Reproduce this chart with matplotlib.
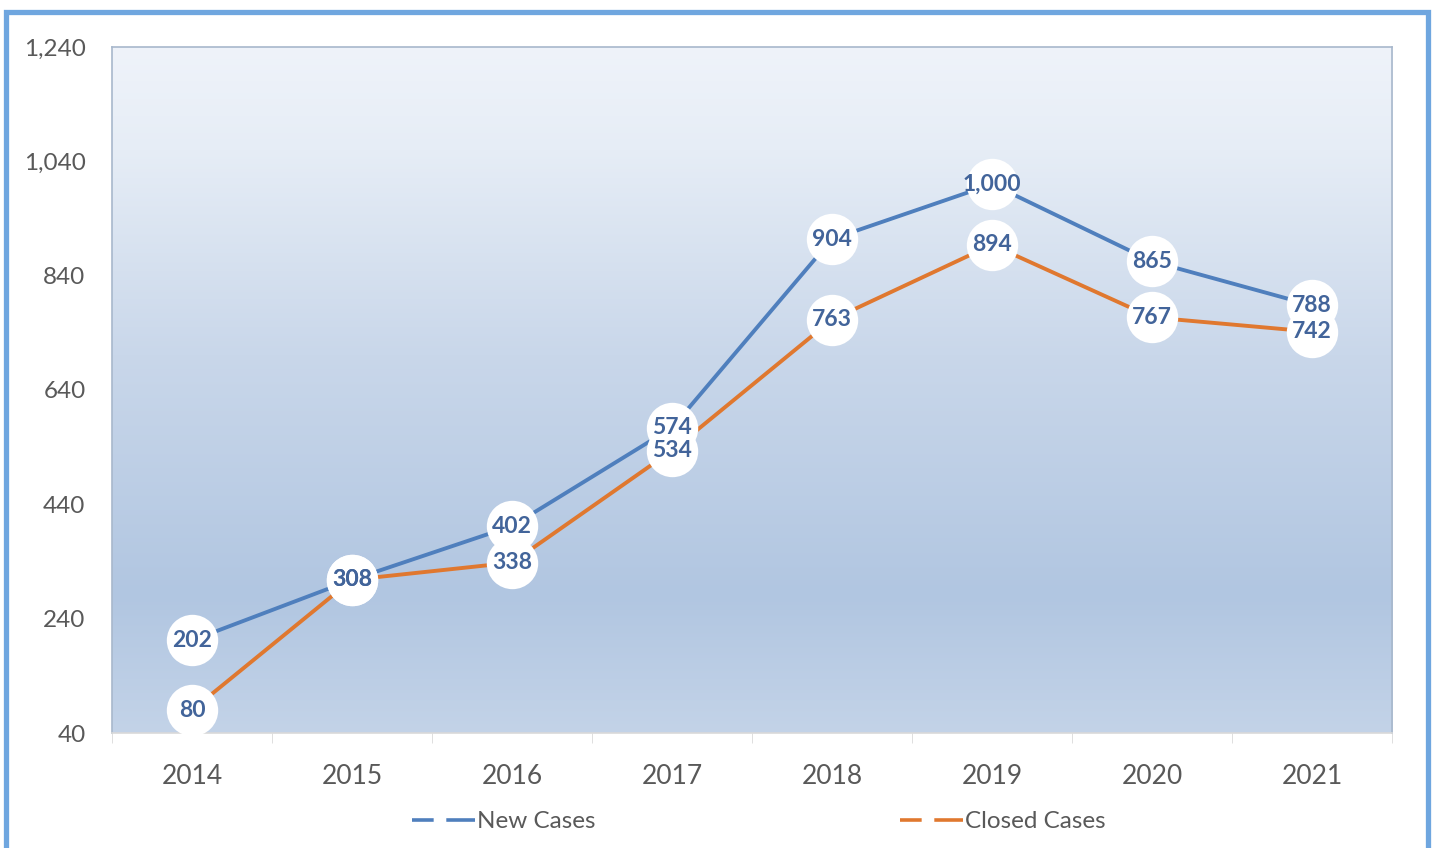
import numpy as np
import matplotlib.pyplot as plt
from matplotlib.colors import LinearSegmentedColormap
from matplotlib.lines import Line2D
from matplotlib.patches import Rectangle

plt.rcParams['font.family'] = ['Lato', 'DejaVu Sans']

years = ['2014', '2015', '2016', '2017', '2018', '2019', '2020', '2021']
new_cases = [202, 308, 402, 574, 904, 1000, 865, 788]
closed_cases = [80, 308, 338, 534, 763, 894, 767, 742]
y_ticks = [40, 240, 440, 640, 840, 1040, 1240]

blue = '#4f7fbd'
orange = '#e0782f'
label_col = '#42649a'
tick_col = '#595959'

fig = plt.figure(figsize=(14.37, 8.48), dpi=100)
ax = fig.add_axes([0.0779, 0.1356, 0.8908, 0.809])

# gradient background of the plot area (bottom -> top)
grad = LinearSegmentedColormap.from_list('bg', [(0.0, '#c3d3e8'), (0.2, '#b1c6e1'),
                                                (0.55, '#c9d7ea'), (0.85, '#e6edf6'),
                                                (1.0, '#eff3fa')])
ax.imshow(np.linspace(0, 1, 256).reshape(-1, 1), cmap=grad, origin='lower',
          extent=(0, 1, 0, 1), transform=ax.transAxes, aspect='auto', zorder=0)

x = np.arange(len(years))
ax.plot(x, new_cases, color=blue, lw=2.8, zorder=2)
ax.plot(x, closed_cases, color=orange, lw=2.8, zorder=2)

# white circles behind the value labels
ax.plot(x, closed_cases, 'o', ms=37, color='white', mec='none', zorder=3)
ax.plot(x, new_cases, 'o', ms=37, color='white', mec='none', zorder=3)
for xi, v in zip(x, new_cases):
    ax.text(xi, v, f'{v:,}', ha='center', va='center', fontsize=16.5, fontweight='bold',
            color=label_col, zorder=4)
for xi, v in zip(x, closed_cases):
    ax.text(xi, v, f'{v:,}', ha='center', va='center', fontsize=16.5, fontweight='bold',
            color=label_col, zorder=4)

ax.set_xlim(-0.5, len(years) - 0.5)
ax.set_ylim(40, 1240)
ax.set_yticks(y_ticks)
ax.set_yticklabels([f'{t:,}' for t in y_ticks])
ax.set_xticks(x)
ax.set_xticklabels(years)
ax.set_xticks(np.arange(-0.5, len(years)), minor=True)
ax.tick_params(axis='x', which='major', length=0, pad=22, labelsize=19, labelcolor=tick_col)
ax.tick_params(axis='x', which='minor', length=7, color='#d9d9d9', direction='out')
ax.tick_params(axis='y', length=0, pad=19, labelsize=17.5, labelcolor=tick_col)

for s in ['top', 'left', 'right']:
    ax.spines[s].set_color('#a8b8cc')
    ax.spines[s].set_linewidth(1.2)
ax.spines['bottom'].set_color('#d9d9d9')
ax.spines['bottom'].set_linewidth(1.2)

dash = (0, (6, 3.5, 9, 3.5))
handles = [Line2D([], [], color=blue, lw=2.6, linestyle=dash),
           Line2D([], [], color=orange, lw=2.6, linestyle=dash)]
fig.legend(handles, ['New Cases', 'Closed Cases'], ncol=2, loc='center',
           bbox_to_anchor=(0.528, 0.031), frameon=False, fontsize=17.5,
           labelcolor=tick_col, handlelength=2.6, handletextpad=0.1, columnspacing=12.5)

# outer blue frame
fig.patches.append(Rectangle((6 / 1437, -0.05), 1422 / 1437, 1.05 - 12 / 848,
                             transform=fig.transFigure, fill=False,
                             edgecolor='#6fa6df', lw=3.8))

fig.savefig('out.png', dpi=100)
